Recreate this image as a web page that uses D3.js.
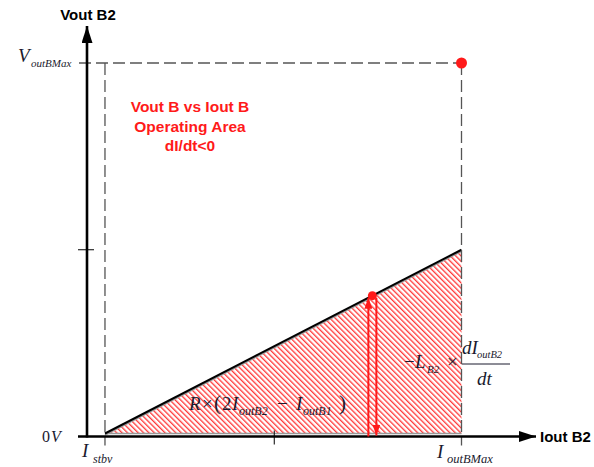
<!DOCTYPE html>
<html>
<head>
<meta charset="utf-8">
<script src="https://cdn.jsdelivr.net/npm/d3@7/dist/d3.min.js"></script>
<style>
  html, body { margin: 0; padding: 0; background: #fff; }
  svg { display: block; }
  .lbl { font-family: "Liberation Sans", Arial, sans-serif; font-weight: bold; }
  .math { font-family: "Liberation Serif", "Times New Roman", serif; font-style: italic; fill: #1a1a2e; }
</style>
</head>
<body>
<svg id="chart" width="594" height="467"></svg>
<script>
// Normalised current (fraction of I_outBMax) and voltage (fraction of V_outBMax)
const xTickValues = [0.048, 0.5, 1];           // I_stbv, mid-scale, I_outBMax
const yTickValues = [0, 0.5, 1];               // 0V, mid-scale, V_outBMax
const boundaryCurrent = [0.048, 1];            // ends of the operating boundary line
const boundaryVoltage = [0.008, 0.5];
const operatingPoint = [0.762, 0.377];         // current, voltage
const maxPoint = [1, 1];                       // (I_outBMax, V_outBMax)
const areaTitle = ["Vout B vs Iout B", "Operating Area", "dI/dt<0"];

const svg = d3.select("#chart");
const x = d3.scaleLinear().domain([0, 1]).range([87, 461.5]);
const y = d3.scaleLinear().domain([0, 1]).range([436.5, 63]);

const red = "#ff1a1a";
const defs = svg.append("defs");

// diagonal hatch for the operating region
defs.append("pattern")
  .attr("id", "hatch")
  .attr("patternUnits", "userSpaceOnUse")
  .attr("width", 3.8).attr("height", 10)
  .attr("patternTransform", "rotate(-45)")
  .append("line")
  .attr("x1", 0.7).attr("y1", 0).attr("x2", 0.7).attr("y2", 10)
  .attr("stroke", red).attr("stroke-width", 1.15);

function arrowHead(id, color, w, h) {
  defs.append("marker")
    .attr("id", id)
    .attr("viewBox", `0 0 ${h} ${w}`)
    .attr("refX", h).attr("refY", w / 2)
    .attr("markerWidth", h).attr("markerHeight", w)
    .attr("markerUnits", "userSpaceOnUse")
    .attr("orient", "auto")
    .append("path")
    .attr("d", `M0,0 L${h},${w / 2} L0,${w} Z`)
    .attr("fill", color);
}
arrowHead("axisArrow", "#000", 11, 17);
arrowHead("redArrow", red, 8, 11);

// operating region (hatched triangle)
const regionPts = [
  [boundaryCurrent[0], boundaryVoltage[0]],
  [boundaryCurrent[1], boundaryVoltage[1]],
  [boundaryCurrent[1], boundaryVoltage[0]]
];
svg.append("path")
  .attr("d", d3.line().x(d => x(d[0])).y(d => y(d[1]))(regionPts) + "Z")
  .attr("fill", "url(#hatch)");

// grey base edge of the region
svg.append("line")
  .attr("x1", x(boundaryCurrent[0])).attr("x2", x(boundaryCurrent[1]))
  .attr("y1", y(boundaryVoltage[0])).attr("y2", y(boundaryVoltage[0]))
  .attr("stroke", "#999").attr("stroke-width", 1.5);

// boundary line with a soft grey shadow
svg.append("line")
  .attr("x1", x(boundaryCurrent[0])).attr("y1", y(boundaryVoltage[0]) + 1.5)
  .attr("x2", x(boundaryCurrent[1])).attr("y2", y(boundaryVoltage[1]) + 1.5)
  .attr("stroke", "#999").attr("stroke-width", 1.6);
svg.append("line")
  .attr("x1", x(boundaryCurrent[0])).attr("y1", y(boundaryVoltage[0]))
  .attr("x2", x(boundaryCurrent[1])).attr("y2", y(boundaryVoltage[1]))
  .attr("stroke", "#000").attr("stroke-width", 2);

// dashed limit lines
const dash = { stroke: "#555", width: 1.3, array: "12,5" };
svg.append("line")
  .attr("x1", 79).attr("x2", x(maxPoint[0]))
  .attr("y1", y(maxPoint[1])).attr("y2", y(maxPoint[1]))
  .attr("stroke", dash.stroke).attr("stroke-width", dash.width).attr("stroke-dasharray", dash.array);
[xTickValues[0], xTickValues[2]].forEach(v => {
  svg.append("line")
    .attr("x1", x(v)).attr("x2", x(v))
    .attr("y1", y(maxPoint[1])).attr("y2", y(0) + 9)
    .attr("stroke", dash.stroke).attr("stroke-width", dash.width).attr("stroke-dasharray", dash.array);
});

// axes
svg.append("line")
  .attr("x1", 78).attr("x2", 536)
  .attr("y1", y(0)).attr("y2", y(0))
  .attr("stroke", "#000").attr("stroke-width", 2.6)
  .attr("marker-end", "url(#axisArrow)");
svg.append("line")
  .attr("x1", x(0)).attr("x2", x(0))
  .attr("y1", y(0) + 1).attr("y2", 26)
  .attr("stroke", "#000").attr("stroke-width", 2.6)
  .attr("marker-end", "url(#axisArrow)");

// mid-scale ticks
svg.append("line")
  .attr("x1", x(xTickValues[1])).attr("x2", x(xTickValues[1]))
  .attr("y1", y(0) - 6).attr("y2", y(0) + 8)
  .attr("stroke", "#000").attr("stroke-width", 1);
svg.append("line")
  .attr("x1", 78).attr("x2", 94)
  .attr("y1", y(yTickValues[1])).attr("y2", y(yTickValues[1]))
  .attr("stroke", "#000").attr("stroke-width", 1);

// rise / fall arrows at the operating point
svg.append("line")
  .attr("x1", x(operatingPoint[0]) - 4).attr("x2", x(operatingPoint[0]) - 4)
  .attr("y1", y(0)).attr("y2", y(operatingPoint[1]) + 2)
  .attr("stroke", red).attr("stroke-width", 2)
  .attr("marker-end", "url(#redArrow)");
svg.append("line")
  .attr("x1", x(operatingPoint[0]) + 4).attr("x2", x(operatingPoint[0]) + 4)
  .attr("y1", y(operatingPoint[1]) + 2).attr("y2", y(0) - 1)
  .attr("stroke", red).attr("stroke-width", 2)
  .attr("marker-end", "url(#redArrow)");

// points
svg.append("circle")
  .attr("cx", x(operatingPoint[0])).attr("cy", y(operatingPoint[1]))
  .attr("r", 4.5).attr("fill", red);
svg.append("circle")
  .attr("cx", x(maxPoint[0])).attr("cy", y(maxPoint[1]))
  .attr("r", 5.5).attr("fill", red);

// axis titles
svg.append("text").attr("class", "lbl")
  .attr("x", 88).attr("y", 20).attr("text-anchor", "middle")
  .attr("font-size", 15).text("Vout B2");
svg.append("text").attr("class", "lbl")
  .attr("x", 540).attr("y", 442)
  .attr("font-size", 15).text("Iout B2");

// region title
svg.append("text").attr("class", "lbl")
  .attr("text-anchor", "middle").attr("font-size", 15.5).attr("fill", red)
  .selectAll("tspan").data(areaTitle).join("tspan")
  .attr("x", 190).attr("y", (d, i) => [112, 132, 151][i])
  .text(d => d);

// symbolic tick labels
function mathLabel(parts) {
  const t = svg.append("text").attr("class", "math");
  parts.forEach(p => {
    t.append("tspan")
      .attr("x", p.x).attr("y", p.y)
      .attr("font-size", p.s)
      .attr("font-style", p.up ? "normal" : "italic")
      .text(p.t);
  });
  return t;
}

mathLabel([
  { t: "V", x: 18, y: 62, s: 19 },
  { t: "outBMax", x: 31, y: 67, s: 11 }
]);
mathLabel([
  { t: "0", x: 42, y: 442, s: 16, up: true },
  { t: "V", x: 51, y: 442, s: 16 }
]);
mathLabel([
  { t: "I", x: 82, y: 457, s: 19 },
  { t: "stbv", x: 93, y: 463, s: 12 }
]);
mathLabel([
  { t: "I", x: 437, y: 458, s: 19 },
  { t: "outBMax", x: 447, y: 463, s: 12.5 }
]);

// R × (2 I_outB2 − I_outB1)
mathLabel([
  { t: "R", x: 189, y: 410, s: 19 },
  { t: "×", x: 202, y: 410, s: 19, up: true },
  { t: "(", x: 214, y: 410, s: 21, up: true },
  { t: "2", x: 222, y: 410, s: 19, up: true },
  { t: "I", x: 232, y: 410, s: 19 },
  { t: "outB2", x: 239, y: 415, s: 12 },
  { t: "−", x: 277, y: 410, s: 19, up: true },
  { t: "I", x: 296, y: 410, s: 19 },
  { t: "outB1", x: 303, y: 415, s: 12 },
  { t: ")", x: 339, y: 410, s: 21, up: true }
]);

// − L_B2 × dI_outB2 / dt
mathLabel([
  { t: "−", x: 404, y: 368, s: 19, up: true },
  { t: "L", x: 415, y: 368, s: 19 },
  { t: "B2", x: 427, y: 373, s: 11 },
  { t: "×", x: 447, y: 368, s: 19, up: true },
  { t: "dI", x: 462, y: 354, s: 19 },
  { t: "outB2", x: 477, y: 358, s: 10.5 },
  { t: "dt", x: 477, y: 385, s: 19 }
]);
svg.append("line")
  .attr("x1", 462).attr("x2", 510).attr("y1", 364).attr("y2", 364)
  .attr("stroke", "#1a1a2e").attr("stroke-width", 1);
</script>
</body>
</html>
